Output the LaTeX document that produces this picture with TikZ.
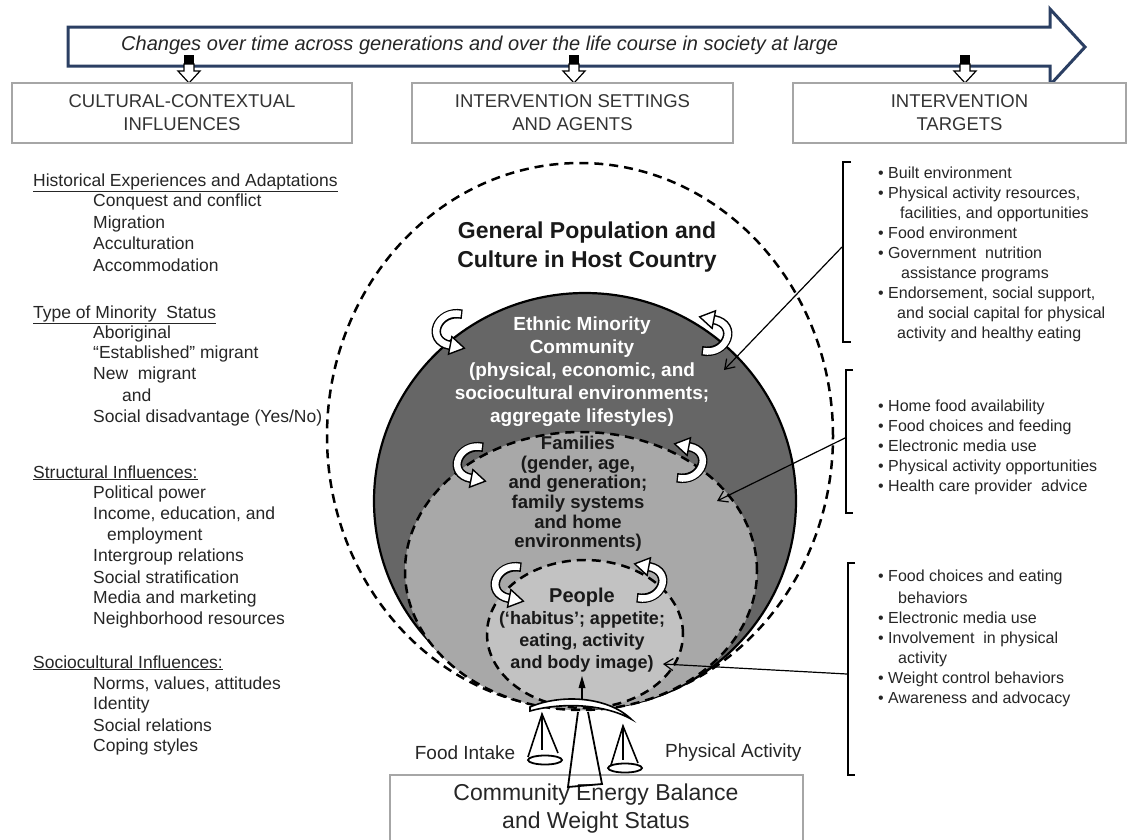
\documentclass[tikz,border=0pt]{standalone}
\usepackage{fontspec}
\setmainfont{Liberation Sans}
\usetikzlibrary{arrows.meta}
\definecolor{navy}{RGB}{43,63,99}
\definecolor{darkfill}{RGB}{102,102,102}
\definecolor{midfill}{RGB}{168,168,168}
\definecolor{lightfill}{RGB}{194,194,194}
\definecolor{txt}{RGB}{38,38,38}
\newcommand{\myfs}[2]{\fontsize{#1}{#2}\selectfont}
\tikzset{
  hdr/.style={draw=black!35, line width=1.2pt, fill=white, align=center, text=black!80, font=\myfs{18.5}{23}},
  lt/.style={anchor=base west, font=\myfs{17.5}{21}, text=txt, inner sep=0pt},
  rt/.style={anchor=base west, font=\myfs{16}{20}, text=txt, inner sep=0pt},
  brk/.style={line width=1.8pt, black},
  conn/.style={line width=1.2pt, -{Straight Barb[length=9pt,width=12pt,line width=1.2pt]}},
  dashring/.style={line width=2.5pt, dash pattern=on 9pt off 6pt},
  rotarr/.pic={
    \draw[line width=9.5pt, black] (11,-14) .. controls (-10,-18) and (-20,8) .. (1,12);
    \draw[line width=6.5pt, white, shorten <=1.4pt] (11,-14) .. controls (-10,-18) and (-20,8) .. (1,12);
    \filldraw[fill=white, draw=black, line width=1.4pt] (2.4,4.7) -- (12.8,14.3) -- (-0.4,19.3) -- cycle;
  },
  downarr/.pic={
    \fill[black] (-5,-9) rectangle (5,0);
    \filldraw[fill=white, draw=black, line width=1.2pt] (-5,0) -- (5,0) -- (5,7) -- (11,7) -- (0,19) -- (-11,7) -- (-5,7) -- cycle;
  }
}
\begin{document}
\begin{tikzpicture}[x=1pt,y=-1pt]
\useasboundingbox[fill=white] (0,0) rectangle (1128,839);

% big time arrow
\draw[navy, line width=3pt, fill=white, line join=miter]
  (68,27) -- (1050,27) -- (1050,9) -- (1085,47) -- (1050,85) -- (1050,66) -- (68,66) -- cycle;
\node[anchor=base west, font=\myfs{20}{23}\itshape, text=black!85, inner sep=0pt] (timetxt) at (121,50)
  {Changes over time across generations and over the life course in society at large};

% small down arrows
\pic at (189,64) {downarr};
\pic at (574,64) {downarr};
\pic at (965,64) {downarr};

% header boxes
\node[hdr, minimum width=340pt, minimum height=60pt] (h1) at (182,113) {CULTURAL-CONTEXTUAL\\INFLUENCES};
\node[hdr, minimum width=321pt, minimum height=60pt] (h2) at (572.5,113) {INTERVENTION SETTINGS\\AND AGENTS};
\node[hdr, minimum width=333pt, minimum height=60pt] (h3) at (959.5,113) {INTERVENTION\\TARGETS};

% left column
\node[lt] (l1) at (33,186) {\underline{Historical Experiences and Adaptations}};
\node[lt] (l2) at (93,206) {Conquest and conflict};
\node[lt] (l3) at (93,228) {Migration};
\node[lt] (l4) at (93,249) {Acculturation};
\node[lt] (l5) at (93,271) {Accommodation};
\node[lt] (l6) at (33,318) {\underline{Type of Minority\ \ Status}};
\node[lt] (l7) at (93,338) {Aboriginal};
\node[lt] (l8) at (93,358) {“Established” migrant};
\node[lt] (l9) at (93,379) {New\ \ migrant};
\node[lt] (l10) at (122,401) {and};
\node[lt] (l11) at (93,422) {Social disadvantage (Yes/No)};
\node[lt] (l12) at (33,478) {\underline{Structural Influences:}};
\node[lt] (l13) at (93,498) {Political power};
\node[lt] (l14) at (93,519) {Income, education, and};
\node[lt] (l15) at (107,540) {employment};
\node[lt] (l16) at (93,561) {Intergroup relations};
\node[lt] (l17) at (93,583) {Social stratification};
\node[lt] (l18) at (93,603) {Media and marketing};
\node[lt] (l19) at (93,624) {Neighborhood resources};
\node[lt] (l20) at (33,668) {\underline{Sociocultural Influences:}};
\node[lt] (l21) at (93,689) {Norms, values, attitudes};
\node[lt] (l22) at (93,709) {Identity};
\node[lt] (l23) at (93,731) {Social relations};
\node[lt] (l24) at (93,751) {Coping styles};

% nested circles
\draw[dashring, fill=white] (580,436) ellipse [x radius=253pt, y radius=273pt];
\draw[line width=2.2pt, fill=darkfill] (585,501) ellipse [x radius=211pt, y radius=208pt];
\draw[dashring, fill=midfill] (581,571) ellipse [x radius=176pt, y radius=139pt];
\draw[dashring, fill=lightfill] (585,634) ellipse [x radius=98pt, y radius=74pt];

\node[font=\myfs{23}{29}\bfseries, align=center, text=black!90] (genpop) at (587,247) {General Population and\\Culture in Host Country};
\node[font=\myfs{19}{23}\bfseries, align=center, text=white] (ethnic) at (582,372) {Ethnic Minority\\Community\\(physical, economic, and\\sociocultural environments;\\aggregate lifestyles)};
\node[font=\myfs{18.5}{19.6}\bfseries, align=center, text=black!90] (families) at (578,494) {Families\\(gender, age,\\and generation;\\family systems\\and home\\environments)};
\node[font=\myfs{18}{22}\bfseries, align=center, text=black!90] (people) at (582,630) {{\myfs{20}{22}People}\\(‘habitus’; appetite;\\eating, activity\\and body image)};

% rotation arrows
\pic[scale=1.2] at (449,331) {rotarr};
\pic[scale=1.2, rotate=180] at (715,334) {rotarr};
\pic[scale=1.2] at (470,464) {rotarr};
\pic[scale=1.2, rotate=180] at (690,461) {rotarr};
\pic[scale=1.2] at (508,584) {rotarr};
\pic[scale=1.2, rotate=180] at (650,581) {rotarr};

% right column group 1
\draw[brk] (851,162) -- (843,162) -- (843,342) -- (851,342);
\node[rt] (r1) at (878,178) {• Built environment};
\node[rt] (r2) at (878,198) {• Physical activity resources,};
\node[rt] (r3) at (900,218) {facilities, and opportunities};
\node[rt] (r4) at (878,238) {• Food environment};
\node[rt] (r5) at (878,258) {• Government\ \ nutrition};
\node[rt] (r6) at (901,278) {assistance programs};
\node[rt] (r7) at (878,298) {• Endorsement, social support,};
\node[rt] (r8) at (897,318) {and social capital for physical};
\node[rt] (r9) at (897,338) {activity and healthy eating};

% right column group 2
\draw[brk] (853,370) -- (846,370) -- (846,513) -- (853,513);
\node[rt] (r10) at (878,411) {• Home food availability};
\node[rt] (r11) at (878,431) {• Food choices and feeding};
\node[rt] (r12) at (878,451) {• Electronic media use};
\node[rt] (r13) at (878,471) {• Physical activity opportunities};
\node[rt] (r14) at (878,491) {• Health care provider\ \ advice};

% right column group 3
\draw[brk] (855,563) -- (848,563) -- (848,775) -- (855,775);
\node[rt] (r15) at (878,581) {• Food choices and eating};
\node[rt] (r16) at (898,603) {behaviors};
\node[rt] (r17) at (878,623) {• Electronic media use};
\node[rt] (r18) at (878,643) {• Involvement\ \ in physical};
\node[rt] (r19) at (898,663) {activity};
\node[rt] (r20) at (878,683) {• Weight control behaviors};
\node[rt] (r21) at (878,703) {• Awareness and advocacy};

% connectors
\coordinate (j1) at (842,247);
\coordinate (e1) at (724,370);
\coordinate (j2) at (845,438);
\coordinate (e2) at (717,501);
\coordinate (j3) at (847,674);
\coordinate (e3) at (663,664);
\draw[conn] (j1) -- (e1);
\draw[conn] (j2) -- (e2);
\draw[conn] (j3) -- (e3);

% bottom box
\draw[black!35, line width=1.2pt] (390,842) -- (390,775) -- (803,775) -- (803,842);
\node[font=\myfs{23}{28}, align=center, text=black!85] (balance) at (596,809) {Community Energy Balance\\and Weight Status};
\node[font=\myfs{19}{23}, text=black!85] (food) at (465,753) {Food Intake};
\node[font=\myfs{19}{23}, text=black!85, anchor=west, inner sep=0pt] (phys) at (665,753) {Physical Activity};

% balance scale
\draw[line width=2pt] (582,702) -- (582,684);
\fill (578.5,688) -- (582,676) -- (585.5,688) -- cycle;
\draw[line width=1.8pt] (578,712) -- (568,787) -- (602,784) -- (588,712);
\filldraw[fill=white, draw=black, line width=1.6pt]
  (530,707) .. controls (560,694) and (607,696) .. (631,719)
  .. controls (604,704) and (562,702) .. (530,711) -- cycle;
\draw[line width=1.6pt] (528,757) -- (542,714) -- (558,753);
\draw[line width=1.6pt] (542,714) -- (542,750);
\draw[line width=1.8pt, fill=white] (545,760) ellipse [x radius=17pt, y radius=4.5pt];
\draw[line width=1.6pt] (611,765) -- (623,726) -- (638,763);
\draw[line width=1.6pt] (623,726) -- (623,760);
\draw[line width=1.8pt, fill=white] (625,768) ellipse [x radius=17pt, y radius=4.5pt];
\end{tikzpicture}
\end{document}
